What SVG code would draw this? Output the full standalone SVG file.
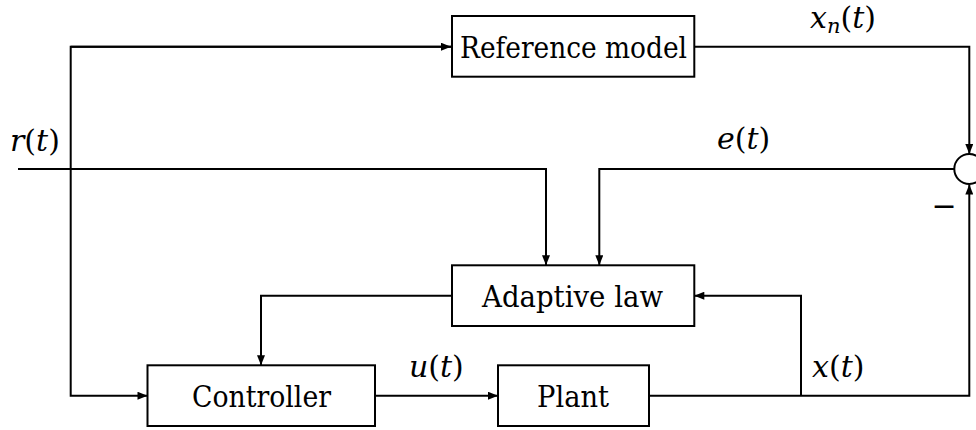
<svg xmlns="http://www.w3.org/2000/svg" width="976" height="430" viewBox="0 0 976 430">
  <style>
    .box { fill: #ffffff; stroke: #000000; stroke-width: 2; }
    .wire { fill: none; stroke: #000000; stroke-width: 2; }
    .lbl { font-family: 'DejaVu Serif', serif; font-size: 30px; fill: #000000; }
    .m { font-style: italic; }
    .up { font-style: normal; }
  </style>
  <defs>
    <marker id="arrow" viewBox="0 0 10 8" refX="10" refY="4" markerWidth="11" markerHeight="8" markerUnits="userSpaceOnUse" orient="auto">
      <path d="M0,0 L10,4 L0,8 Z" fill="#000000"/>
    </marker>
  </defs>

  <!-- connectors -->
  <g id="connectors">
    <!-- r(t) branch to reference model and controller -->
    <polyline class="wire" points="452,46.7 70.7,46.7 70.7,395.7 147.5,395.7" marker-end="url(#arrow)"/>
    <line class="wire" x1="70.7" y1="46.7" x2="451" y2="46.7" marker-end="url(#arrow)"/>
    <!-- r(t) input to adaptive law -->
    <polyline class="wire" points="18,169 546,169 546,265.3" marker-end="url(#arrow)"/>
    <!-- reference model output to summing junction -->
    <polyline class="wire" points="694.3,46.7 969.3,46.7 969.3,154" marker-end="url(#arrow)"/>
    <!-- error signal to adaptive law -->
    <polyline class="wire" points="954,169 599.3,169 599.3,265.3" marker-end="url(#arrow)"/>
    <!-- adaptive law to controller -->
    <polyline class="wire" points="452,295.7 261,295.7 261,365.3" marker-end="url(#arrow)"/>
    <!-- control input -->
    <line class="wire" x1="375" y1="395.7" x2="498" y2="395.7" marker-end="url(#arrow)"/>
    <!-- plant output to summing junction -->
    <polyline class="wire" points="649,395.7 969.3,395.7 969.3,184.5" marker-end="url(#arrow)"/>
    <!-- plant output to adaptive law -->
    <polyline class="wire" points="801,395.7 801,295.7 694.3,295.7" marker-end="url(#arrow)"/>
  </g>

  <g id="reference-model">
    <rect class="box" x="452" y="16" width="242.3" height="60.7"/>
    <text class="lbl" x="460" y="58" textLength="227" lengthAdjust="spacingAndGlyphs">Reference model</text>
  </g>

  <g id="adaptive-law">
    <rect class="box" x="452" y="265.3" width="242.3" height="60.7"/>
    <text class="lbl" x="482" y="307" textLength="181" lengthAdjust="spacingAndGlyphs">Adaptive law</text>
  </g>

  <g id="controller">
    <rect class="box" x="147.5" y="365.3" width="227.5" height="60.7"/>
    <text class="lbl" x="192" y="406.7" textLength="139" lengthAdjust="spacingAndGlyphs">Controller</text>
  </g>

  <g id="plant">
    <rect class="box" x="498" y="365.3" width="151" height="60.7"/>
    <text class="lbl" x="537" y="406.7" textLength="72" lengthAdjust="spacingAndGlyphs">Plant</text>
  </g>

  <g id="sum">
    <circle class="wire" cx="969.3" cy="169" r="15" fill="#ffffff"/>
    <text class="lbl" x="944" y="216" text-anchor="middle">−</text>
  </g>

  <!-- signal labels -->
  <g id="labels">
    <text class="lbl" x="10" y="151"><tspan class="m">r</tspan><tspan class="up">(</tspan><tspan class="m">t</tspan><tspan class="up">)</tspan></text>
    <text class="lbl" x="810" y="28"><tspan class="m">x</tspan><tspan class="m" font-size="21" dy="5">n</tspan><tspan class="up" dy="-5">(</tspan><tspan class="m">t</tspan><tspan class="up">)</tspan></text>
    <text class="lbl" x="717" y="149"><tspan class="m">e</tspan><tspan class="up">(</tspan><tspan class="m">t</tspan><tspan class="up">)</tspan></text>
    <text class="lbl" x="409" y="377"><tspan class="m">u</tspan><tspan class="up">(</tspan><tspan class="m">t</tspan><tspan class="up">)</tspan></text>
    <text class="lbl" x="812" y="377"><tspan class="m">x</tspan><tspan class="up">(</tspan><tspan class="m">t</tspan><tspan class="up">)</tspan></text>
  </g>
</svg>
